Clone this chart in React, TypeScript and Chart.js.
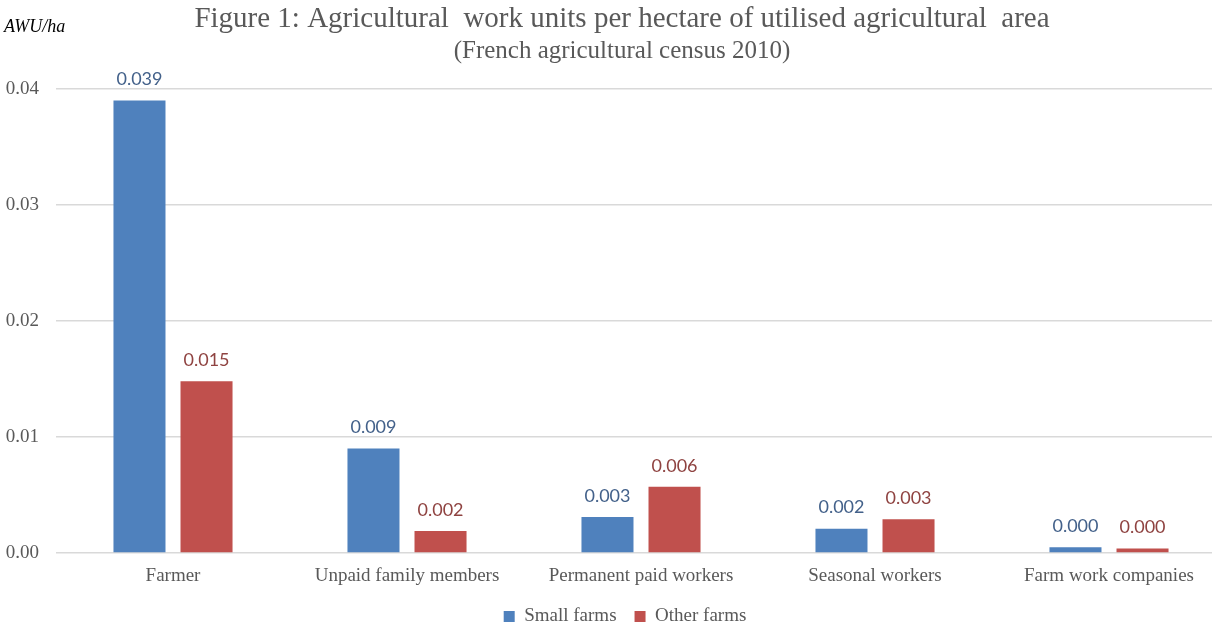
import React, { useEffect, useRef } from "react";
import { Chart, registerables } from "chart.js";

Chart.register(...registerables);

const categories = ["Farmer", "Unpaid family members", "Permanent paid workers", "Seasonal workers", "Farm work companies"];
const smallFarms = [0.039, 0.009, 0.0031, 0.0021, 0.00049];
const otherFarms = [0.0148, 0.0019, 0.0057, 0.0029, 0.00038];
const seriesNames = ["Small farms", "Other farms"];
const titleText = "Figure 1: Agricultural  work units per hectare of utilised agricultural  area";
const subtitleText = "(French agricultural census 2010)";
const yUnit = "AWU/ha";

const SERIF = "'Liberation Serif', 'Times New Roman', serif";
const SANS = "Lato, 'Open Sans', sans-serif";

const labelColors = ["#43618a", "#8f4341"];

const extras = {
  id: "extras",
  afterLayout(chart: any) {
    chart.boxes.forEach((b: any) => {
      const t = b.options && b.options.text;
      if (t === titleText || t === subtitleText) b.left += 18;
    });
    if (chart.legend) chart.legend.left += 24;
  },
  afterDatasetsDraw(chart: any) {
    const ctx = chart.ctx;
    ctx.save();
    chart.data.datasets.forEach((ds: any, i: number) => {
      const meta = chart.getDatasetMeta(i);
      meta.data.forEach((bar: any, j: number) => {
        ctx.font = `18px ${SANS}`;
        ctx.fillStyle = labelColors[i];
        ctx.textAlign = "center";
        ctx.textBaseline = "bottom";
        ctx.fillText(Number(ds.data[j]).toFixed(3), bar.x, bar.y - 12);
      });
    });
    ctx.font = `italic 18px ${SERIF}`;
    ctx.fillStyle = "#000";
    ctx.textAlign = "left";
    ctx.textBaseline = "middle";
    ctx.fillText(yUnit, 4, 27);
    ctx.restore();
  },
};

export default function App() {
  const ref = useRef<HTMLCanvasElement>(null);
  useEffect(() => {
    const chart = new Chart(ref.current!, {
      type: "bar",
      data: {
        labels: categories,
        datasets: [
          { label: seriesNames[0], data: smallFarms, backgroundColor: "#4f81bd", categoryPercentage: 0.573, barPercentage: 0.776 },
          { label: seriesNames[1], data: otherFarms, backgroundColor: "#c0504d", categoryPercentage: 0.573, barPercentage: 0.776 },
        ],
      },
      options: {
        animation: false,
        responsive: false,
        layout: { padding: { left: 0, right: 14, top: 0, bottom: -8 } },
        plugins: {
          title: {
            display: true,
            text: titleText,
            color: "#595959",
            font: { family: SERIF, size: 29, weight: "normal" },
            padding: { top: 2, bottom: 0 },
          },
          subtitle: {
            display: true,
            text: subtitleText,
            color: "#595959",
            font: { family: SERIF, size: 25, weight: "normal" },
            padding: { top: 0, bottom: 22 },
          },
          legend: {
            position: "bottom",
            labels: {
              boxWidth: 11,
              boxHeight: 11,
              color: "#595959",
              font: { family: SERIF, size: 19 },
              padding: 18,
            },
          },
          tooltip: { enabled: false },
        },
        scales: {
          x: {
            grid: { display: false },
            border: { display: false },
            afterFit: (s: any) => { s.height = 36; },
            ticks: { color: "#595959", font: { family: SERIF, size: 19 }, padding: 4, maxRotation: 0, autoSkip: false },
          },
          y: {
            min: 0,
            max: 0.04,
            afterFit: (s: any) => { s.width = 56; },
            grid: { color: "#d9d9d9", lineWidth: 1.5, drawTicks: false },
            border: { display: false },
            ticks: {
              stepSize: 0.01,
              color: "#595959",
              font: { family: SERIF, size: 19 },
              padding: 17,
              callback: (v: any) => Number(v).toFixed(2),
            },
          },
        },
      },
      plugins: [extras],
    });
    return () => chart.destroy();
  }, []);
  return (
    <div style={{ position: "fixed", left: 0, top: 0, width: 1240, height: 628, background: "#fff" }}>
      <canvas ref={ref} width={1240} height={628} style={{ display: "block" }} />
    </div>
  );
}
